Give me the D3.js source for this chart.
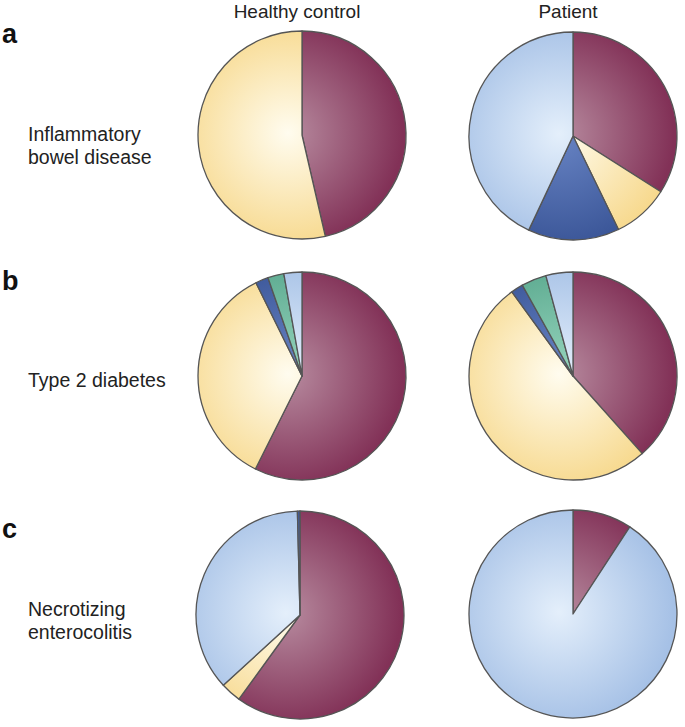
<!DOCTYPE html>
<html>
<head>
<meta charset="utf-8">
<script src="https://cdn.jsdelivr.net/npm/d3@7"></script>
<style>
  html, body { margin: 0; padding: 0; background: #fff; }
  svg { display: block; }
  text { font-family: "Liberation Sans", Arial, Helvetica, sans-serif; fill: #222; }
</style>
</head>
<body>
<svg id="chart" width="685" height="727"></svg>
<script>
// ---- Data (clockwise from 12 o'clock, % of community) ----
const columns = ["Healthy control", "Patient"];
const panelLetters = ["a", "b", "c"];
const rowLabels = [["Inflammatory", "bowel disease"], ["Type 2 diabetes"], ["Necrotizing", "enterocolitis"]];

const groupsIBDHealthy  = ["maroon", "yellow"];
const valuesIBDHealthy  = [46.4, 53.6];
const groupsIBDPatient  = ["maroon", "yellow", "darkblue", "lightblue"];
const valuesIBDPatient  = [34.0, 8.8, 14.2, 43.0];
const groupsT2DHealthy  = ["maroon", "yellow", "darkblue", "teal", "lightblue"];
const valuesT2DHealthy  = [57.4, 35.3, 2.0, 2.5, 2.8];
const groupsT2DPatient  = ["maroon", "yellow", "darkblue", "teal", "lightblue"];
const valuesT2DPatient  = [38.4, 51.6, 1.9, 3.9, 4.2];
const groupsNECHealthy  = ["maroon", "yellow", "lightblue", "darkblue"];
const valuesNECHealthy  = [60.0, 3.2, 36.4, 0.4];
const groupsNECPatient  = ["maroon", "lightblue"];
const valuesNECPatient  = [9.2, 90.8];

const pies = [
  [groupsIBDHealthy, valuesIBDHealthy], [groupsIBDPatient, valuesIBDPatient],
  [groupsT2DHealthy, valuesT2DHealthy], [groupsT2DPatient, valuesT2DPatient],
  [groupsNECHealthy, valuesNECHealthy], [groupsNECPatient, valuesNECPatient]
];

// ---- Styles ----
const palette = {
  maroon:    { light: "#b78b9f", base: "#823157" },
  yellow:    { light: "#fffcef", base: "#f7d98e" },
  lightblue: { light: "#e4effb", base: "#a6c1e6" },
  darkblue:  { light: "#6884c4", base: "#3a5597" },
  teal:      { light: "#95d4bc", base: "#5aa88e" }
};

const svg = d3.select("#chart");
const defs = svg.append("defs");

const colX = d3.scalePoint().domain(d3.range(2)).range([302, 573]);
const R = 104;

// Column headers
columns.forEach((c, i) => {
  svg.append("text").attr("x", colX(i) - 5).attr("y", 18)
    .attr("text-anchor", "middle").attr("font-size", 19).text(c);
});

// Panel letters
const letterY = [43, 290, 538];
panelLetters.forEach((l, i) => {
  svg.append("text").attr("x", 2).attr("y", letterY[i])
    .attr("font-size", 27).attr("font-weight", "bold").style("fill", "#111").text(l);
});

// Row labels
const labelY = [[141, 164], [387], [616, 639]];
rowLabels.forEach((lines, i) => {
  lines.forEach((t, j) => {
    svg.append("text").attr("x", 28).attr("y", labelY[i][j])
      .attr("font-size", 19.5).text(t);
  });
});

const pie = d3.pie().sort(null).value(d => d.v);
const arc = d3.arc().innerRadius(0).outerRadius(R);

const centers = [
  [302, 135], [573, 136],
  [302, 376], [573, 376],
  [300, 615], [573, 614]
];

pies.forEach(([groups, values], k) => {
  const [cx, cy] = centers[k];
  const data = groups.map((g, i) => ({ g, v: values[i] }));
  const gEl = svg.append("g").attr("transform", `translate(${cx},${cy})`);
  Object.keys(palette).forEach(key => {
    const gr = defs.append("radialGradient")
      .attr("id", `grad-${k}-${key}`)
      .attr("gradientUnits", "userSpaceOnUse")
      .attr("cx", -14).attr("cy", -2).attr("r", R * 1.1);
    gr.append("stop").attr("offset", "0%").attr("stop-color", palette[key].light);
    gr.append("stop").attr("offset", "100%").attr("stop-color", palette[key].base);
  });
  gEl.selectAll("path").data(pie(data)).join("path")
    .attr("d", arc)
    .attr("fill", d => `url(#grad-${k}-${d.data.g})`)
    .attr("stroke", "#555")
    .attr("stroke-width", 1.3)
    .attr("stroke-linejoin", "round");
});
</script>
</body>
</html>
